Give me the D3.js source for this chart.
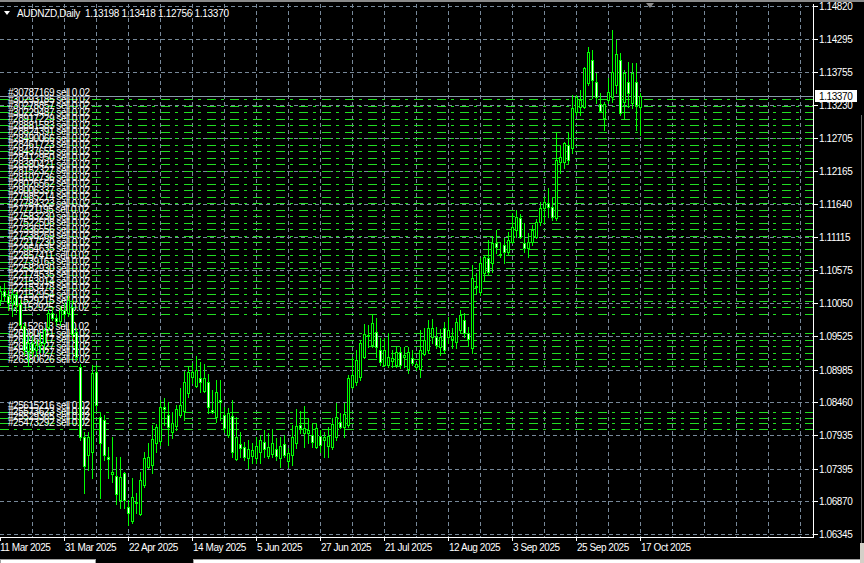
<!DOCTYPE html>
<html><head><meta charset="utf-8">
<script src="https://cdn.jsdelivr.net/npm/d3@7"></script>
<style>html,body{margin:0;padding:0;background:#000;overflow:hidden}svg{display:block}</style>
</head><body><svg id="c" width="864" height="563"></svg>
<script>
// ---------- DATA ----------
const symbolTitle = "AUDNZD,Daily";
const lastQuote = [1.13198, 1.13418, 1.12756, 1.13370];
const bidPrice = 1.13370;
const firstDay = "2025-03-07", lastDay = "2025-10-17";

const opens = [1.1010,1.1025,1.1017,1.1005,1.1020,1.1004,1.0968,1.0928,1.0941,1.0930,1.0938,1.0941,1.0967,1.0989,1.0981,1.0976,1.0994,1.0989,1.0999,1.0959,
1.0903,1.0790,1.0761,1.0766,1.0895,1.0822,1.0818,1.0758,1.0731,1.0728,1.0689,1.0732,1.0678,1.0655,1.0686,1.0667,1.0713,1.0742,1.0745,1.0781,
1.0784,1.0838,1.0826,1.0798,1.0808,1.0826,1.0832,1.0861,1.0887,1.0872,1.0885,1.0864,1.0879,1.0834,1.0822,1.0850,1.0826,1.0793,1.0824,1.0755,
1.0779,1.0774,1.0757,1.0760,1.0757,1.0766,1.0782,1.0760,1.0763,1.0771,1.0757,1.0779,1.0752,1.0761,1.0781,1.0810,1.0797,1.0797,1.0793,1.0774,
1.0792,1.0785,1.0776,1.0774,1.0790,1.0814,1.0806,1.0810,1.0871,1.0879,1.0887,1.0919,1.0954,1.0938,1.0959,1.0930,1.0906,1.0906,1.0912,1.0906,
1.0927,1.0919,1.0899,1.0917,1.0903,1.0899,1.0923,1.0930,1.0951,1.0951,1.0935,1.0965,1.0951,1.0947,1.0943,1.0962,1.0978,1.0957,1.0933,1.1033,
1.1023,1.1053,1.1077,1.1069,1.1102,1.1082,1.1098,1.1087,1.1103,1.1122,1.1142,1.1102,1.1094,1.1103,1.1111,1.1135,1.1158,1.1166,1.1159,1.1142,
1.1232,1.1232,1.1259,1.1254,1.1312,1.1320,1.1320,1.1358,1.1395,1.1360,1.1325,1.1302,1.1331,1.1336,1.1355,1.1395,1.1328,1.1360,1.1326,1.1360,
1.13198];
const highs = [1.1033,1.1037,1.1026,1.1028,1.1023,1.1010,1.0973,1.0952,1.0952,1.0946,1.0957,1.0965,1.0994,1.0997,1.0988,1.1000,1.1005,1.1017,1.1010,1.0965,
1.0907,1.0798,1.0798,1.0906,1.0906,1.0830,1.0826,1.0774,1.0790,1.0758,1.0758,1.0734,1.0689,1.0724,1.0700,1.0734,1.0766,1.0781,1.0810,1.0811,
1.0850,1.0853,1.0846,1.0830,1.0842,1.0869,1.0896,1.0903,1.0909,1.0920,1.0911,1.0907,1.0891,1.0866,1.0882,1.0882,1.0838,1.0837,1.0850,1.0822,
1.0798,1.0782,1.0785,1.0781,1.0790,1.0793,1.0801,1.0797,1.0803,1.0789,1.0790,1.0793,1.0773,1.0810,1.0835,1.0832,1.0840,1.0821,1.0813,1.0813,
1.0801,1.0798,1.0806,1.0821,1.0845,1.0829,1.0845,1.0890,1.0919,1.0930,1.0946,1.0972,1.0970,1.0988,1.0981,1.0949,1.0949,1.0957,1.0930,1.0935,
1.0935,1.0935,1.0935,1.0930,1.0911,1.0962,1.0965,1.0978,1.0980,1.0967,1.0964,1.0975,1.0983,1.0965,1.0981,1.0994,1.0989,1.0967,1.1066,1.1053,
1.1077,1.1082,1.1106,1.1113,1.1122,1.1103,1.1110,1.1119,1.1150,1.1155,1.1148,1.1134,1.1118,1.1130,1.1140,1.1167,1.1175,1.1190,1.1175,1.1278,
1.1259,1.1264,1.1278,1.1339,1.1339,1.1347,1.1384,1.1416,1.1411,1.1374,1.1342,1.1328,1.1366,1.1443,1.1427,1.1406,1.1379,1.1392,1.1390,1.1390,
1.13418];
const lows = [1.1002,1.1010,1.0994,1.0984,1.0991,1.0965,1.0922,1.0904,1.0920,1.0920,1.0927,1.0927,1.0962,1.0978,1.0970,1.0970,1.0981,1.0984,1.0949,1.0914,
1.0785,1.0700,1.0737,1.0724,1.0834,1.0692,1.0753,1.0724,1.0718,1.0683,1.0676,1.0676,1.0649,1.0652,1.0668,1.0665,1.0710,1.0741,1.0732,1.0766,
1.0777,1.0810,1.0777,1.0789,1.0801,1.0822,1.0818,1.0854,1.0877,1.0871,1.0862,1.0862,1.0829,1.0829,1.0814,1.0818,1.0798,1.0790,1.0758,1.0753,
1.0758,1.0753,1.0741,1.0749,1.0749,1.0749,1.0758,1.0757,1.0758,1.0753,1.0742,1.0758,1.0742,1.0745,1.0773,1.0797,1.0774,1.0781,1.0774,1.0773,
1.0766,1.0758,1.0758,1.0771,1.0785,1.0805,1.0790,1.0806,1.0869,1.0874,1.0882,1.0917,1.0935,1.0935,1.0919,1.0906,1.0904,1.0903,1.0903,1.0903,
1.0901,1.0903,1.0893,1.0906,1.0898,1.0887,1.0922,1.0925,1.0941,1.0933,1.0922,1.0925,1.0941,1.0933,1.0933,1.0959,1.0951,1.0936,1.0925,1.1021,
1.1018,1.1042,1.1050,1.1055,1.1085,1.1079,1.1069,1.1082,1.1102,1.1111,1.1110,1.1087,1.1079,1.1098,1.1110,1.1131,1.1135,1.1143,1.1138,1.1138,
1.1214,1.1222,1.1230,1.1246,1.1307,1.1307,1.1318,1.1355,1.1334,1.1326,1.1312,1.1283,1.1326,1.1328,1.1342,1.1307,1.1302,1.1320,1.1318,1.1283,
1.12756];
const closes = [1.1025,1.1017,1.1005,1.1020,1.1002,1.0970,1.0930,1.0941,1.0928,1.0938,1.0941,1.0962,1.0989,1.0981,1.0976,1.0994,1.0988,1.1010,1.0956,1.0919,
1.0790,1.0744,1.0790,1.0893,1.0842,1.0781,1.0761,1.0755,1.0734,1.0699,1.0726,1.0689,1.0668,1.0694,1.0684,1.0721,1.0757,1.0758,1.0787,1.0806,
1.0838,1.0835,1.0806,1.0813,1.0835,1.0842,1.0879,1.0895,1.0895,1.0898,1.0879,1.0885,1.0838,1.0830,1.0862,1.0846,1.0805,1.0829,1.0766,1.0790,
1.0773,1.0758,1.0771,1.0769,1.0776,1.0785,1.0771,1.0774,1.0781,1.0760,1.0776,1.0761,1.0764,1.0790,1.0808,1.0805,1.0805,1.0801,1.0782,1.0805,
1.0777,1.0790,1.0792,1.0811,1.0822,1.0806,1.0827,1.0885,1.0890,1.0914,1.0941,1.0956,1.0952,1.0973,1.0935,1.0911,1.0930,1.0919,1.0917,1.0927,
1.0906,1.0922,1.0927,1.0909,1.0907,1.0930,1.0946,1.0965,1.0965,1.0938,1.0951,1.0930,1.0962,1.0952,1.0975,1.0986,1.0957,1.0947,1.1045,1.1031,
1.1069,1.1079,1.1055,1.1102,1.1095,1.1084,1.1087,1.1106,1.1127,1.1143,1.1111,1.1094,1.1103,1.1122,1.1135,1.1158,1.1167,1.1159,1.1143,1.1235,
1.1240,1.1262,1.1235,1.1318,1.1336,1.1331,1.1382,1.1408,1.1363,1.1336,1.1313,1.1325,1.1344,1.1376,1.1405,1.1310,1.1374,1.1342,1.1374,1.1323,
1.13370];

const priceTicks = [1.14820,1.14295,1.13755,1.13230,1.12705,1.12165,1.11640,1.11115,1.10575,1.10050,1.09525,1.08985,1.08460,1.07935,1.07395,1.06870,1.06345];
const timeTickIndex = [0,16,32,48,64,80,96,112,128,144,160];
const timeTickLabels = ["11 Mar 2025","31 Mar 2025","22 Apr 2025","14 May 2025","5 Jun 2025","27 Jun 2025","21 Jul 2025","12 Aug 2025","3 Sep 2025","25 Sep 2025","17 Oct 2025"];

const orderTickets = ["30787169","30293185","30278857","30229487","28917229","28881583","28824391","28490066","28461723","28437655",
"28412950","28380421","28152327","28102736","28026562","28006337","27985214","27784323","27721195","27583230",
"27522508","27336556","27238269","27217230","22954635","22857411","22739163","22582930","22174535","22153914",
"22153478","22152954","21529215","21152925",
"21152613","26080841","26046517","26412627","26391027","26380626",
"25615216","25573623","25529365","25473292"];
const orderPrices = [1.13325,1.13218,1.13122,1.13010,1.12914,1.12803,1.12705,1.12592,1.12496,1.12385,
1.12288,1.12177,1.12079,1.11968,1.11870,1.11760,1.11662,1.11551,1.11453,1.11342,
1.11245,1.11133,1.11036,1.10925,1.10827,1.10716,1.10618,1.10508,1.10410,1.10299,
1.10201,1.10091,1.09992,1.09882,
1.09569,1.09465,1.09364,1.09255,1.09156,1.09048,
1.08303,1.08207,1.08119,1.08023];
const orderType = "sell", orderLots = "0.02";

// ---------- CHART ----------
const W = 864, H = 563, plotR = 813, plotB = 537;
const svg = d3.select("#c").attr("shape-rendering","crispEdges")
  .style("font-family","'Liberation Sans', Arial, sans-serif");
svg.append("rect").attr("width",W).attr("height",H).attr("fill","#000");

const days = d3.timeDay.range(new Date(firstDay+"T00:00"), d3.timeDay.offset(new Date(lastDay+"T00:00"),1))
  .filter(d => d.getDay() !== 0 && d.getDay() !== 6);
const bars = days.map((d,i)=>({date:d, o:opens[i], h:highs[i], l:lows[i], c:closes[i]}));

const x = d3.scaleLinear().domain([0, bars.length-1]).range([0.5, 640.5]);
const y = d3.scaleLinear().domain([1.06345, 1.14820]).range([534, 6]);
const py = v => Math.round(y(v));

const grid = "#778899", lime = "#00ff00", lineGreen = "#22dd22";

// window strip at top
svg.append("rect").attr("x",0).attr("y",0).attr("width",W).attr("height",2).attr("fill","#8a8a8a");

// grid
const gGrid = svg.append("g").attr("stroke",grid).attr("stroke-dasharray","4,3");
priceTicks.forEach(t => {
  gGrid.append("line").attr("x1",0).attr("x2",plotR).attr("y1",py(t)+0.5).attr("y2",py(t)+0.5);
});
d3.range(8, 201, 8).forEach(k => {
  const xx = Math.floor(x(k))+0.5;
  gGrid.append("line").attr("x1",xx).attr("x2",xx).attr("y1",4).attr("y2",plotB);
});

// order lines
const gOrd = svg.append("g");
orderPrices.forEach(p => {
  gOrd.append("line").attr("x1",0).attr("x2",plotR).attr("y1",py(p)+0.5).attr("y2",py(p)+0.5)
    .attr("stroke",lineGreen).attr("stroke-dasharray","9,5,3,6");
});
const gLab = svg.append("g").attr("shape-rendering","auto").attr("text-rendering","optimizeSpeed");
orderPrices.forEach((p,i) => {
  gLab.append("text").attr("x",8).attr("y",py(p)-3)
    .attr("fill","#fff").attr("font-size",10).attr("letter-spacing","-0.45px")
    .text("#"+orderTickets[i]+" "+orderType+" "+orderLots);
});

// bid line
svg.append("line").attr("x1",0).attr("x2",plotR).attr("y1",py(bidPrice)+0.5).attr("y2",py(bidPrice)+0.5)
  .attr("stroke","#8899aa");

// candles
const gC = svg.append("g");
bars.forEach((b,i) => {
  const px = Math.floor(x(i));
  const yh = py(b.h), yl = py(b.l);
  gC.append("rect").attr("x",px).attr("y",yh).attr("width",1).attr("height",Math.max(1,yl-yh+1)).attr("fill",lime);
  const top = py(Math.max(b.o,b.c)), bot = py(Math.min(b.o,b.c));
  gC.append("rect").attr("x",px-1).attr("y",top).attr("width",3).attr("height",bot-top+1).attr("fill",lime);
  if (bot-top >= 2) {
    gC.append("rect").attr("x",px).attr("y",top+1).attr("width",1).attr("height",bot-top-1)
      .attr("fill", b.c < b.o ? "#ffffff" : "#000000");
  }
});

// frame
svg.append("line").attr("x1",plotR+0.5).attr("x2",plotR+0.5).attr("y1",4).attr("y2",plotB+0.5).attr("stroke","#fff");
svg.append("line").attr("x1",0).attr("x2",plotR+0.5).attr("y1",plotB+0.5).attr("y2",plotB+0.5).attr("stroke","#fff");

// price axis
const gY = svg.append("g");
priceTicks.forEach(t => {
  const yy = py(t);
  gY.append("line").attr("x1",plotR+1).attr("x2",plotR+5).attr("y1",yy+0.5).attr("y2",yy+0.5).attr("stroke","#fff");
  gY.append("text").attr("x",819).attr("y",Math.max(yy,5)).attr("dy","0.36em")
    .attr("fill","#fff").attr("font-size",10).attr("letter-spacing","-0.4px").attr("shape-rendering","auto")
    .text(d3.format(".5f")(t));
});
// bid box
const by = py(bidPrice);
svg.append("rect").attr("x",815).attr("y",by-6).attr("width",42).attr("height",12).attr("fill","#fff");
svg.append("text").attr("x",819).attr("y",by).attr("dy","0.36em").attr("fill","#000")
  .attr("font-size",10).attr("letter-spacing","-0.4px").text(d3.format(".5f")(bidPrice));

// time axis
const gX = svg.append("g");
timeTickIndex.forEach((k,i) => {
  const xx = Math.floor(x(k));
  gX.append("line").attr("x1",xx+0.5).attr("x2",xx+0.5).attr("y1",plotB).attr("y2",plotB+4).attr("stroke","#fff");
  gX.append("text").attr("x",i===0?0:xx+1).attr("y",551).attr("fill","#fff").attr("font-size",10)
    .attr("letter-spacing","-0.45px").text(timeTickLabels[i]);
});

// title
svg.append("path").attr("d","M4,11 L10,11 L7,15 Z").attr("fill","#fff").attr("shape-rendering","auto");
svg.append("text").attr("x",17).attr("y",17).attr("fill","#fff").attr("font-size",10)
  .attr("letter-spacing","-0.3px").style("white-space","pre")
  .text(symbolTitle + "  " + lastQuote.map(d3.format(".5f")).join(" "));

// chart shift marker
svg.append("path").attr("d","M646,3 L654,3 L650,8 Z").attr("fill","#8a8a8a").attr("shape-rendering","auto");

// bottom window strips
svg.append("rect").attr("x",0.5).attr("y",559.5).attr("width",95).attr("height",5).attr("fill","#fff").attr("stroke","#a0a0a0");
svg.append("rect").attr("x",193.5).attr("y",559.5).attr("width",668).attr("height",5).attr("fill","#fff").attr("stroke","#a0a0a0");
svg.append("rect").attr("x",860).attr("y",543).attr("width",4).attr("height",20).attr("fill","#d4d0c8");
svg.append("line").attr("x1",861.5).attr("x2",861.5).attr("y1",115).attr("y2",543).attr("stroke","#666");
</script>
</body></html>
